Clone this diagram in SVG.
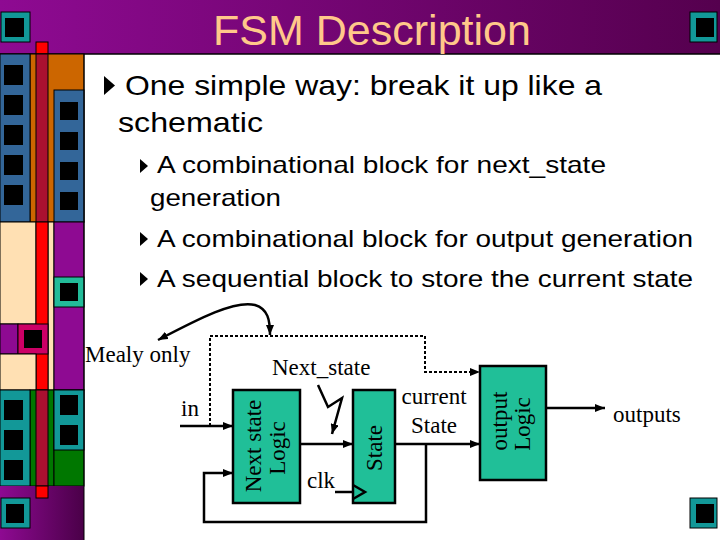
<svg xmlns="http://www.w3.org/2000/svg" width="720" height="540" viewBox="0 0 720 540">
<defs>
<linearGradient id="gTitle" x1="0" y1="0" x2="1" y2="0">
<stop offset="0" stop-color="#8e0a92"/>
<stop offset="1" stop-color="#55004e"/>
</linearGradient>
<linearGradient id="gFoot" x1="0" y1="0" x2="1" y2="0">
<stop offset="0" stop-color="#8e0a92"/>
<stop offset="1" stop-color="#4a0048"/>
</linearGradient>
<marker id="arr" viewBox="0 0 10 8" refX="10" refY="4" markerWidth="10" markerHeight="8" markerUnits="userSpaceOnUse" orient="auto-start-reverse">
<path d="M0,0 L10,4 L0,8 z" fill="#000"/>
</marker>
<style>
.dk{stroke:#000;stroke-width:1}
.blk{fill:#000}
.teal{fill:#129898;stroke:#000;stroke-width:1}
.title{font-family:"Liberation Sans",Arial,sans-serif;font-size:43px;fill:#ffc88a}
.b1{font-family:"Liberation Sans",Arial,sans-serif;font-size:28px;fill:#000}
.b2{font-family:"Liberation Sans",Arial,sans-serif;font-size:24px;fill:#000}
.lbl{font-family:"Liberation Serif","Times New Roman",serif;font-size:23px;fill:#000}
.box{fill:#20bf98;stroke:#000;stroke-width:2.5}
.wire{fill:none;stroke:#000;stroke-width:2.5}
.dot{fill:none;stroke:#000;stroke-width:2;stroke-dasharray:3 2}
</style>
</defs>
<rect width="720" height="540" fill="#fff"/>
<g id="decoration">
<rect x="0" y="0" width="720" height="54" fill="url(#gTitle)"/>
<line x1="0" y1="54" x2="720" y2="54" stroke="#000" stroke-width="1.5"/>
<rect x="1" y="12" width="29" height="30" class="teal"/><rect x="5" y="18" width="19" height="19" class="blk"/>
<rect x="690" y="12" width="27" height="30" class="teal"/><rect x="696" y="18" width="18" height="19" class="blk"/>
<rect x="36" y="42" width="12" height="12" fill="#ff0000" class="dk"/>
<rect x="30" y="54" width="54" height="168" fill="#cc6600" class="dk"/>
<rect x="0" y="54" width="30" height="168" fill="#336699" class="dk"/>
<rect x="4" y="65" width="19" height="20" class="blk"/><rect x="4" y="95" width="19" height="20" class="blk"/><rect x="4" y="125" width="19" height="20" class="blk"/><rect x="4" y="155" width="19" height="20" class="blk"/><rect x="4" y="185" width="19" height="20" class="blk"/>
<rect x="36" y="54" width="12" height="168" fill="#aa1030" class="dk"/>
<rect x="54" y="90" width="30" height="132" fill="#336699" class="dk"/>
<rect x="60" y="102" width="18" height="18" class="blk"/><rect x="60" y="132" width="18" height="18" class="blk"/><rect x="60" y="162" width="18" height="18" class="blk"/><rect x="60" y="192" width="18" height="18" class="blk"/>
<rect x="0" y="222" width="36" height="102" fill="#ffe0b3" class="dk"/>
<rect x="48" y="222" width="6" height="168" fill="#ffe0b3" class="dk"/>
<rect x="54" y="222" width="30" height="168" fill="#8e0a92" class="dk"/>
<rect x="54" y="277" width="30" height="30" fill="#22bb99" class="dk"/><rect x="60" y="283" width="18" height="18" class="blk"/>
<rect x="36" y="222" width="12" height="168" fill="#ff0000" class="dk"/>
<rect x="0" y="324" width="18" height="30" fill="#8e0a92" class="dk"/>
<rect x="18" y="324" width="30" height="30" fill="#cc0066" class="dk"/><rect x="24" y="330" width="18" height="18" class="blk"/>
<rect x="0" y="354" width="36" height="36" fill="#ffe0b3" class="dk"/>
<rect x="30" y="390" width="24" height="96" fill="#007700" class="dk"/>
<rect x="0" y="390" width="30" height="96" fill="#129898" class="dk"/>
<rect x="4" y="400" width="19" height="20" class="blk"/><rect x="4" y="430" width="19" height="20" class="blk"/><rect x="4" y="460" width="19" height="20" class="blk"/>
<rect x="54" y="390" width="30" height="96" fill="#007700" class="dk"/>
<rect x="54" y="390" width="30" height="60" fill="#129898" class="dk"/>
<rect x="60" y="395" width="18" height="20" class="blk"/><rect x="60" y="425" width="18" height="20" class="blk"/>
<rect x="0" y="486" width="84" height="54" fill="url(#gFoot)"/>
<rect x="36" y="390" width="12" height="96" fill="#aa1030" class="dk"/>
<rect x="36" y="486" width="12" height="12" fill="#ff0000" class="dk"/>
<rect x="1" y="498" width="29" height="30" class="teal"/><rect x="6" y="504" width="18" height="19" class="blk"/>
<rect x="690" y="498" width="27" height="30" class="teal"/><rect x="696" y="504" width="18" height="19" class="blk"/>
<line x1="84" y1="54" x2="84" y2="540" stroke="#000" stroke-width="1"/>
</g>
<g id="title"><text x="372" y="45" text-anchor="middle" class="title">FSM Description</text></g>
<g id="bullets">
<path d="M104,76 L115,85.5 L104,95 z" class="blk"/>
<text x="125" y="95" class="b1" textLength="477" lengthAdjust="spacingAndGlyphs">One simple way: break it up like a</text>
<text x="118" y="132" class="b1" textLength="145" lengthAdjust="spacingAndGlyphs">schematic</text>
<path d="M140,159 L148,166 L140,173 z" class="blk"/>
<text x="157" y="173" class="b2" textLength="449" lengthAdjust="spacingAndGlyphs">A combinational block for next_state</text>
<text x="150" y="206" class="b2" textLength="131" lengthAdjust="spacingAndGlyphs">generation</text>
<path d="M140,232 L148,239 L140,246 z" class="blk"/>
<text x="157" y="247" class="b2" textLength="536" lengthAdjust="spacingAndGlyphs">A combinational block for output generation</text>
<path d="M140,272 L148,279 L140,286 z" class="blk"/>
<text x="157" y="287" class="b2" textLength="536" lengthAdjust="spacingAndGlyphs">A sequential block to store the current state</text>
</g>
<g id="connectors">
<path d="M210,426 V336 H425 V372 H480" class="dot" marker-end="url(#arr)"/>
<path d="M180,426 H233" class="wire" marker-end="url(#arr)"/>
<path d="M300,444 H353" class="wire" marker-end="url(#arr)"/>
<path d="M395,444 H480" class="wire" marker-end="url(#arr)"/>
<path d="M426,444 V522 H204 V473 H233" class="wire" marker-end="url(#arr)"/>
<path d="M335,492 H353" class="wire"/>
<path d="M546,408 H605" class="wire" marker-end="url(#arr)"/>
<path d="M318,385 L328,407 L342,398 L332,434" class="wire" marker-end="url(#arr)"/>
<path d="M158,340 C200,318 235,300 255,305 C268,309 270,320 270,335" class="wire" marker-start="url(#arr)" marker-end="url(#arr)"/>
</g>
<g id="next_state_logic">
<rect x="233" y="390" width="67" height="113" class="box"/>
<text transform="translate(261,446) rotate(-90)" text-anchor="middle" class="lbl">Next state</text>
<text transform="translate(285,448) rotate(-90)" text-anchor="middle" class="lbl">Logic</text>
</g>
<g id="state">
<rect x="353" y="390" width="42" height="113" class="box"/>
<text transform="translate(382,448) rotate(-90)" text-anchor="middle" class="lbl">State</text>
<path d="M353,485 L365,492 L353,499" fill="none" stroke="#000" stroke-width="2.5"/>
</g>
<g id="output_logic">
<rect x="480" y="366" width="66" height="114" class="box"/>
<text transform="translate(507,421) rotate(-90)" text-anchor="middle" class="lbl">output</text>
<text transform="translate(530,424) rotate(-90)" text-anchor="middle" class="lbl">Logic</text>
</g>
<g id="labels">
<text x="85" y="362" class="lbl">Mealy only</text>
<text x="181" y="416" class="lbl">in</text>
<text x="272" y="375" class="lbl">Next_state</text>
<text x="307" y="488" class="lbl">clk</text>
<text x="434" y="404" text-anchor="middle" class="lbl">current</text>
<text x="434" y="433" text-anchor="middle" class="lbl">State</text>
<text x="613" y="422" class="lbl">outputs</text>
</g>
</svg>
